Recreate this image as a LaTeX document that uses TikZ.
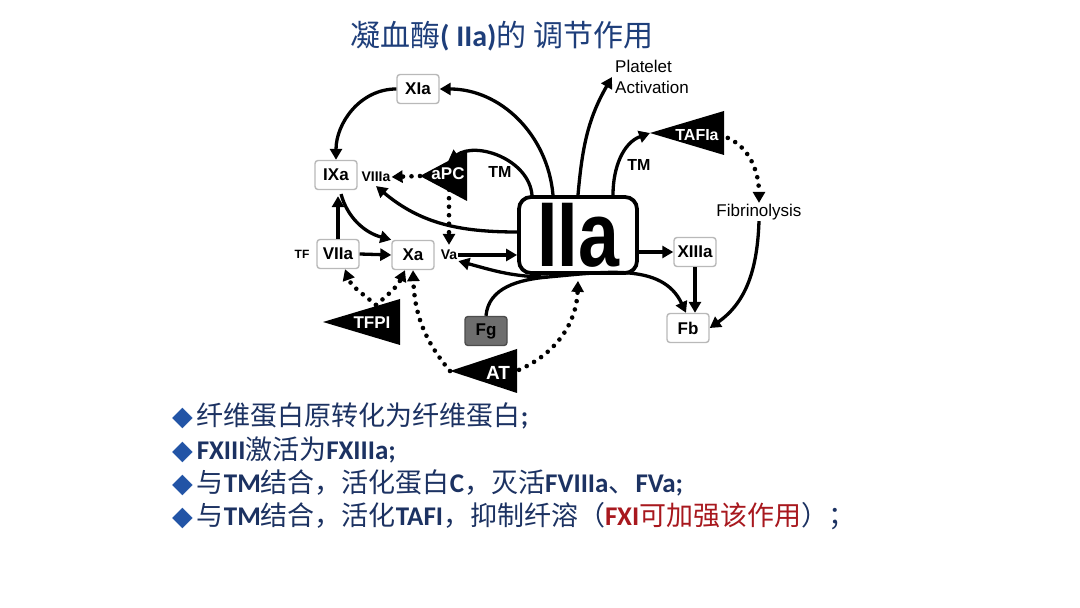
\documentclass[tikz,border=0pt]{standalone}
\usepackage{fontspec}
\usepackage{graphicx}
\usepackage{xcolor}
\setmainfont{Liberation Sans}
\newfontfamily\cjk{Noto Sans CJK SC}
\newfontfamily\calib{Carlito}
\newfontfamily\dejavu{DejaVu Sans}
\usetikzlibrary{arrows.meta,calc}
\definecolor{titleblue}{RGB}{30,62,122}
\definecolor{txtblue}{RGB}{28,50,98}
\definecolor{diamblue}{RGB}{34,84,166}
\definecolor{darkred}{RGB}{168,24,30}
\definecolor{fggray}{RGB}{110,110,110}
\newcommand{\enb}[1]{{\calib\bfseries #1}}
\newcommand{\fsz}[1]{\fontsize{#1}{#1}\selectfont}

\begin{document}
\begin{tikzpicture}[x=1pt,y=1pt,
  fac/.style={draw=gray!55,line width=1.4pt,rounded corners=3pt,fill=white,
    minimum width=42pt,minimum height=29pt,inner sep=0pt,font=\bfseries\fsz{17}},
  lab/.style={inner sep=1pt,font=\bfseries\fsz{14}},
  note/.style={inner sep=1pt,font=\fsz{17}},
  trilab/.style={inner sep=1pt,text=white,font=\bfseries\fsz{17}},
  arr/.style={line width=3.3pt,-{Triangle[length=11pt,width=12pt]}},
  dotarr/.style={line width=4.6pt,line cap=round,dash pattern=on 0pt off 8.5pt,
    -{Triangle[length=11pt,width=12pt]}},
  bul/.style={anchor=base west,inner sep=0pt,text=txtblue,font=\cjk\fsz{27}}]
  \fill[white] (0,0) rectangle (1080,608);
  \useasboundingbox (0,0) rectangle (1080,608);

  % title
  \node[anchor=west,inner sep=0pt,text=titleblue,font=\cjk\fsz{30}] (title) at (350,572)
    {凝血酶\enb{( IIa)}的 调节作用};

  % thrombin
  \node[draw,line width=3.8pt,rounded corners=12pt,minimum width=118pt,minimum height=76pt,
    inner sep=0pt] (iia) at (578,373) {\bfseries\fsz{92}\scalebox{0.8}[1]{IIa}};

  % factor boxes
  \foreach \nm/\x/\y/\lab in {xia/418/519/XIa, ixa/336/433/IXa, viia/338/354/VIIa,
      xa/413/353/Xa, xiiia/695/356/XIIIa, fb/688/280/Fb}
    \node[fac] (\nm) at (\x,\y) {\lab};
  \node[fac,fill=fggray,draw=black!70] (fg) at (486,277) {Fg};

  % small labels
  \node[lab] (viiia) at (376,431) {VIIIa};
  \node[lab] (va) at (449,353) {Va};
  \node[lab,font=\bfseries\fsz{12}] (tf) at (302,354) {TF};
  \node[lab,font=\bfseries\fsz{16}] (tm1) at (500,436) {TM};
  \node[lab,font=\bfseries\fsz{16}] (tm2) at (639,443) {TM};
  \node[note,anchor=west,align=left,font=\fontsize{17}{21}\selectfont] (plat) at (614,531)
    {Platelet\\Activation};
  \node[note] (fib) at (759,396) {Fibrinolysis};

  % inhibitor triangles, tip on the left
  \foreach \nm/\tx/\ty/\w/\h/\lx/\ly/\lab/\fz in {
     apc/420/432/47/50/448/434/aPC/17,
     tafia/650/475/74/44/697/473/TAFIa/16,
     tfpi/323/286/77/46/372/285/TFPI/17,
     at/450/237/67/44/498/235/AT/19}{
    \fill (\tx,\ty) -- ++(\w,\h/2) -- ++(0,-\h) -- cycle;
    \coordinate (\nm-tip) at (\tx,\ty);
    \coordinate (\nm-top) at (\tx+\w,\ty+\h/2);
    \node[trilab,font=\bfseries\fsz{\fz}] (\nm) at (\lx,\ly) {\lab};
  }

  % IIa feedback loops
  \draw[arr] ([xshift=-25pt]iia.north) to[out=95,in=0] (xia.east);
  \draw[arr] (xia.west) to[out=180,in=90] (ixa.north);
  \draw[arr] ([xshift=-46pt]iia.north) to[out=95,in=35] ($(apc-tip)!0.6!(apc-top)$);
  \draw[arr] ([yshift=3pt]iia.west) to[out=180,in=-40] ([yshift=-3pt]viiia.south);
  \draw[dotarr] (apc-tip) -- (viiia.east);
  \draw[dotarr,shorten >=4pt] (va.north |- apc.south) -- (va.north);

  % tenase / prothrombinase
  \draw[arr,shorten >=6pt] (viia.north) -- (viia.north |- ixa.south);
  \draw[arr,shorten <=4pt] ([xshift=4pt]ixa.south) to[out=-75,in=165] (xa.north west);
  \draw[arr] (viia.east) -- (xa.west);
  \draw[arr] (va.east) -- (va.east -| iia.west);

  % fibrinogen -> fibrin under IIa
  \coordinate (iiab) at (548,331);
  \draw[arr] (fg.north) to[out=85,in=185] (iiab) to[out=5,in=115] ([xshift=-2pt]fb.north);
  \draw[arr] (iiab) to[out=180,in=-15] (va.south east);
  \draw[arr] (iia.east |- xiiia.west) -- (xiiia.west);
  \draw[arr] (xiiia.south) -- (xiiia.south |- fb.north);

  % platelets, TAFI, fibrinolysis
  \draw[arr] (iia.north) to[out=85,in=240] ([xshift=-2pt]plat.west);
  \draw[arr] ([xshift=35pt]iia.north) to[out=90,in=200] (tafia-tip);
  \draw[dotarr] (tafia.east) to[out=-15,in=90] (fib.north);
  \draw[arr] (fib.south) to[out=-92,in=35] (fb.east);

  % TFPI and AT
  \draw[dotarr] ([shift={(4pt,11pt)}]tfpi.north) to[out=140,in=-70] ([xshift=7pt]viia.south);
  \draw[dotarr] ([shift={(4pt,11pt)}]tfpi.north) to[out=40,in=-115] ([xshift=-8pt]xa.south);
  \draw[dotarr] (at-tip) to[out=130,in=-88] (xa.south);
  \draw[dotarr] (at.east) to[out=20,in=-92] ([yshift=-6pt]iia.south);

  % bullet lines
  \foreach \i/\txt in {
    1/{纤维蛋白原转化为纤维蛋白\enb{;}},
    2/{\enb{FXIII}激活为\enb{FXIIIa;}},
    3/{与\enb{TM}结合，活化蛋白\enb{C}，灭活\enb{FVIIIa}、\enb{FVa;}},
    4/{与\enb{TM}结合，活化\enb{TAFI}，抑制纤溶（\textcolor{darkred}{\enb{FXI}可加强该作用}）；}}
    \node[bul] (line\i) at (172,215.5-33.3*\i)
      {{\dejavu\color{diamblue}\fsz{27}◆}\hspace{4pt}\txt};
\end{tikzpicture}
\end{document}
